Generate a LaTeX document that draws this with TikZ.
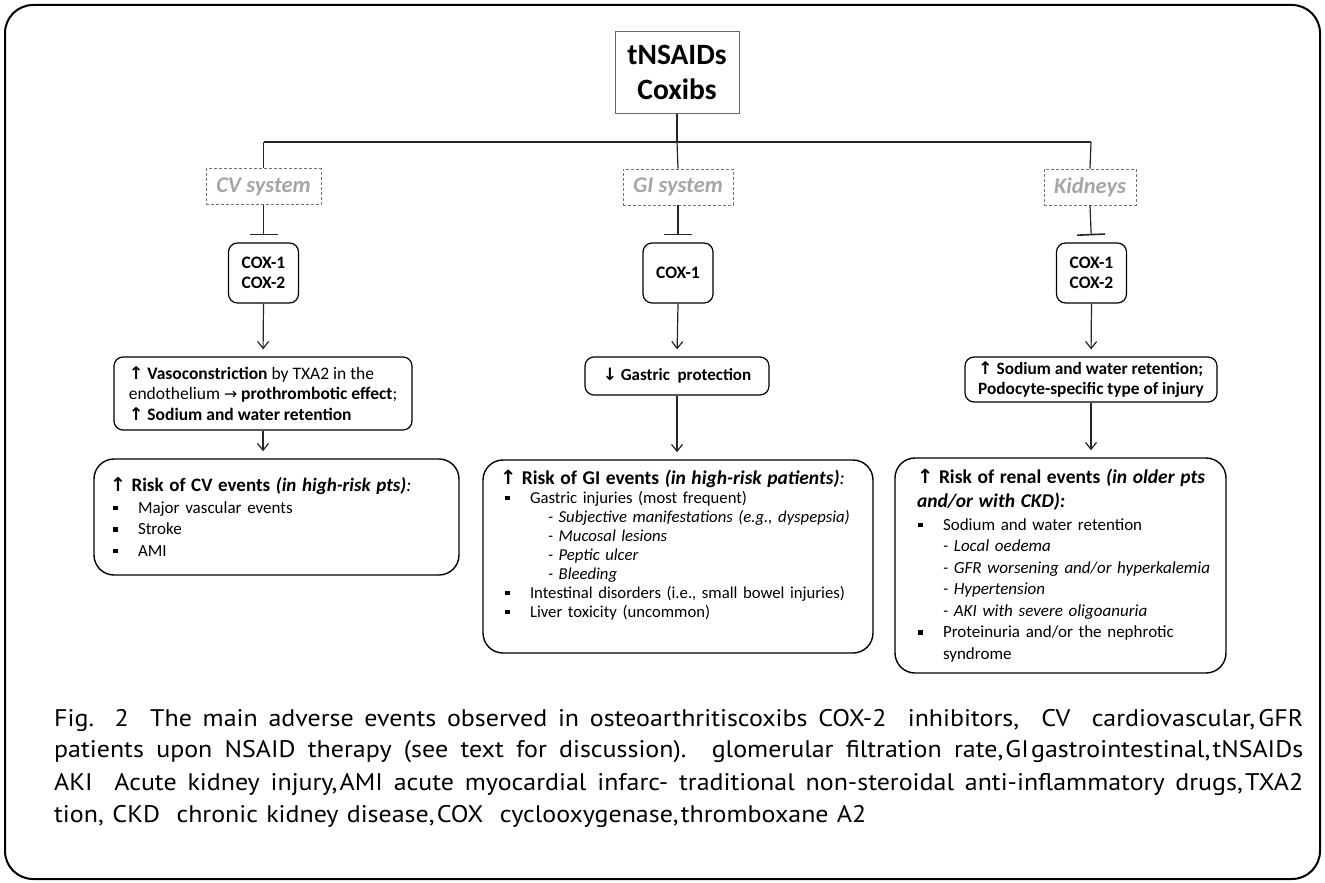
\documentclass[tikz,border=0pt]{standalone}
\usepackage{fontspec}
\setmainfont{Carlito}
\newfontfamily\arrfont{DejaVu Sans}
\newfontfamily\capfamily{PT Sans}
\usetikzlibrary{arrows.meta}
\newcommand\upa{{\arrfont\fontsize{1em}{1em}\selectfont ↑}}
\newcommand\dna{{\arrfont\fontsize{1em}{1em}\selectfont ↓}}
\newcommand\rta{{\arrfont\fontsize{0.9em}{1em}\selectfont →}}
\newcommand\bsq[1]{\hspace*{#1}\makebox[25pt][l]{\raisebox{3pt}{\rule{4.5pt}{4.5pt}}}}
\newcommand\capfont{\capfamily\fontsize{24}{26}\selectfont}
\newlength\capw
\newcommand\capline[2]{\scalebox{\cf}[1]{\makebox[#1pt][s]{#2}}}
\begin{document}
\settowidth\capw{\capfont Fig. 2\ \ The main adverse}%
\pgfmathsetmacro\cf{273/\capw}%
\pgfmathsetmacro\cwa{1249/\cf}%
\pgfmathsetmacro\cwb{812/\cf}%
\begin{tikzpicture}[x=1pt,y=-1pt,
  conn/.style={line width=1.2pt, draw=black!85},
  arr/.style={conn, -{Straight Barb[length=7pt,width=11pt,line width=1.2pt]}, shorten >=7pt},
  inh/.style={conn, -{Bar[width=28pt,line width=1.6pt]}, shorten >=7pt},
  topbox/.style={draw=black!60, line width=1pt, inner sep=0pt, align=center,
    font=\bfseries\fontsize{29.5}{35}\selectfont},
  sysbox/.style={draw=black!55, dash pattern=on 3pt off 2pt, line width=0.9pt, inner sep=0pt,
    text=black!35, minimum height=36pt, font=\bfseries\itshape\fontsize{22.5}{24}\selectfont},
  coxbox/.style={draw, line width=1.2pt, rounded corners=9pt, inner sep=0pt, align=center,
    minimum width=70pt, minimum height=60pt, font=\bfseries\fontsize{17.5}{20}\selectfont},
  effbox/.style={draw, line width=1.2pt, rounded corners=9pt, inner sep=0pt},
  riskbox/.style={draw, line width=1.4pt, rounded corners=20pt, inner ysep=0pt, align=left},
  capt/.style={anchor=west, inner sep=0pt, font=\capfont}
]
\useasboundingbox (0,0) rectangle (1325,883);
\draw[line width=2pt, rounded corners=28pt] (5,5) rectangle (1320,879);

% top
\node[topbox, minimum width=124pt, minimum height=81pt] (top) at (677,72.5) {tNSAIDs\\Coxibs};
\coordinate (bL) at (263.5,142);
\coordinate (bR) at (1091,142);
\coordinate (bM) at (677,142);

% systems
\node[sysbox, minimum width=115pt] (cv) at (263.5,186.5) {CV system};
\node[sysbox, minimum width=110pt] (gi) at (678,187) {GI system};
\node[sysbox, minimum width=92pt] (kid) at (1090,187) {Kidneys};

% COX boxes
\node[coxbox] (coxcv) at (263.5,273) {COX-1\\COX-2};
\node[coxbox] (coxgi) at (678,273) {COX-1};
\node[coxbox] (coxkid) at (1091.5,273) {COX-1\\COX-2};

% effect boxes
\node[effbox, minimum width=298pt, minimum height=73pt, align=left,
  font=\fontsize{17.5}{20.5}\selectfont] (vaso) at (263,393.5)
  {\textbf{\upa\ Vasoconstriction} by TXA2 in the\\
   endothelium \rta\ \textbf{prothrombotic effect};\\
   \textbf{\upa\ Sodium and water retention}};
\node[effbox, minimum width=184pt, minimum height=38pt,
  font=\bfseries\fontsize{17}{20}\selectfont] (gastric) at (677,376)
  {\dna\ Gastric\ \ protection};
\node[effbox, minimum width=252pt, minimum height=45pt, align=left,
  font=\bfseries\fontsize{17.3}{20}\selectfont] (sodium) at (1091,379.5)
  {\upa\ Sodium and water retention;\\Podocyte-specific type of injury};

% risk boxes
\node[riskbox, minimum width=365pt, minimum height=116pt, inner xsep=16pt, text width=333pt,
  font=\fontsize{17}{21.5}\selectfont] (riskcv) at (276.5,517)
  {\mbox{\fontsize{19}{21.5}\selectfont\textbf{\upa\ Risk of CV events \textit{(in high-risk pts)}}\textit{:}}\\
   \bsq{3pt}Major vascular events\\
   \bsq{3pt}Stroke\\
   \bsq{3pt}AMI};
\node[riskbox, minimum width=390pt, minimum height=193pt, inner xsep=17pt, text width=356pt,
  font=\fontsize{16.7}{19}\selectfont] (riskgi) at (678,556.5)
  {\mbox{\fontsize{19.5}{20}\selectfont\textbf{\upa\ Risk of GI events \textit{(in high-risk patients)}}\textit{:}}\\
   \bsq{5pt}Gastric injuries (most frequent)\\
   \hspace*{48pt}\mbox{\textit{- Subjective manifestations (e.g., dyspepsia)}}\\
   \hspace*{48pt}\textit{- Mucosal lesions}\\
   \hspace*{48pt}\textit{- Peptic ulcer}\\
   \hspace*{48pt}\textit{- Bleeding}\\
   \mbox{\bsq{5pt}Intestinal disorders (i.e., small bowel injuries)}\\
   \bsq{5pt}Liver toxicity (uncommon)\rule[-26pt]{0pt}{26pt}};
\node[riskbox, minimum width=331pt, minimum height=215pt, inner xsep=22pt, text width=287pt,
  font=\fontsize{17}{21.5}\selectfont] (riskkid) at (1060.5,565.5)
  {\mbox{\fontsize{19.5}{23}\selectfont\textbf{\upa\ Risk of renal events \textit{(in older pts}}}\\[3pt]
   \mbox{\fontsize{19.5}{23}\selectfont\textbf{\textit{and/or with CKD):}}}\\[1pt]
   \bsq{1pt}Sodium and water retention\\
   \hspace*{26pt}\textit{- Local oedema}\\
   \hspace*{26pt}\mbox{\textit{- GFR worsening and/or hyperkalemia}}\\
   \hspace*{26pt}\textit{- Hypertension}\\
   \hspace*{26pt}\textit{- AKI with severe oligoanuria}\\
   \mbox{\bsq{1pt}Proteinuria and/or the nephrotic}\\
   \hspace*{26pt}syndrome};

% connectors
\draw[conn] (top.south) -- (bM);
\draw[conn, line width=1.8pt] (bL) -- (bR);
\draw[conn] (bL) -- (cv.north);
\draw[conn] (bM) -- (gi.north);
\draw[conn] (bR) -- (kid.north);
\draw[inh] (cv.south) -- (coxcv.north);
\draw[inh] (gi.south) -- (coxgi.north);
\draw[inh] (kid.south) -- (coxkid.north);
\draw[arr] (coxcv.south) -- (vaso.north);
\draw[arr] (coxgi.south) -- (gastric.north);
\draw[arr] (coxkid.south) -- (sodium.north);
\draw[arr] (vaso.south) -- (vaso.south |- riskcv.north);
\draw[arr] (gastric.south) -- (gastric.south |- riskgi.north);
\draw[arr] (sodium.south) -- (sodium.south |- riskkid.north);

% caption
\node[capt] (cap1) at (54,720) {\capline{\cwa}{Fig. 2\ \ The main adverse events observed in osteoarthritiscoxibs COX-2 \ inhibitors, \ CV \ cardiovascular,\kern3pt GFR}};
\node[capt] (cap2) at (54,752) {\capline{\cwa}{patients upon NSAID therapy (see text for discussion). glomerular filtration rate,\kern2pt GI\kern2pt gastrointestinal,\kern2pt tNSAIDs}};
\node[capt] (cap3) at (54,784) {\capline{\cwa}{AKI \ Acute kidney injury,\kern2pt AMI acute myocardial infarc- traditional non-steroidal anti-inflammatory drugs,\kern2pt TXA2}};
\node[capt] (cap4) at (54,816) {\capline{\cwb}{tion, CKD \ chronic kidney disease,\kern2pt COX \ cyclooxygenase,\kern2pt thromboxane A2}};
\end{tikzpicture}
\end{document}
